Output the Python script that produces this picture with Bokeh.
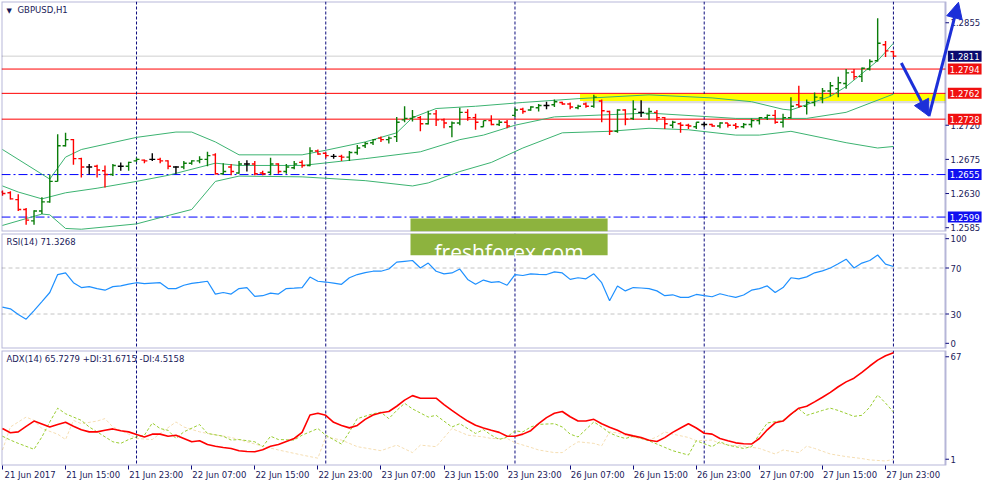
from bokeh.plotting import figure
from bokeh.layouts import column
from bokeh.models import (ColumnDataSource, Range1d, FixedTicker, Span, BoxAnnotation,
                          Label, Arrow, NormalHead, PrintfTickFormatter, LinearAxis)
from bokeh.embed import file_html
from bokeh.resources import INLINE

# GBPUSD H1 bars, 21 Jun 07:00 .. 28 Jun 00:00 (bar index 0..113)
bar_open = [1.2632, 1.2631, 1.2622, 1.2609, 1.2594, 1.2607, 1.2619, 1.2646, 1.2693, 1.2701,
            1.2676, 1.2665, 1.2666, 1.2660, 1.2655, 1.2666, 1.2666, 1.2673, 1.2674, 1.2675,
            1.2675, 1.2673, 1.2665, 1.2665, 1.2670, 1.2673, 1.2675, 1.2681, 1.2656, 1.2665,
            1.2657, 1.2669, 1.2669, 1.2657, 1.2658, 1.2669, 1.2659, 1.2664, 1.2671, 1.2667,
            1.2686, 1.2683, 1.2679, 1.2679, 1.2678, 1.2684, 1.2693, 1.2697, 1.2703, 1.2701,
            1.2705, 1.2727, 1.2729, 1.2730, 1.2722, 1.2735, 1.2727, 1.2718, 1.2723, 1.2737,
            1.2730, 1.2718, 1.2726, 1.2721, 1.2724, 1.2733, 1.2741, 1.2740, 1.2743, 1.2746,
            1.2747, 1.2750, 1.2748, 1.2743, 1.2748, 1.2745, 1.2752, 1.2738, 1.2712, 1.2740,
            1.2729, 1.2737, 1.2735, 1.2737, 1.2730, 1.2720, 1.2722, 1.2720, 1.2718, 1.2721,
            1.2721, 1.2719, 1.2723, 1.2720, 1.2718, 1.2721, 1.2726, 1.2730, 1.2733, 1.2724,
            1.2730, 1.2747, 1.2745, 1.2750, 1.2756, 1.2765, 1.2768, 1.2775, 1.2790, 1.2784,
            1.2794, 1.2805, 1.2826, 1.2817]
bar_high = [1.2634, 1.2633, 1.2629, 1.2611, 1.2608, 1.2625, 1.2655, 1.2708, 1.2710, 1.2702,
            1.2677, 1.2669, 1.2668, 1.2667, 1.2669, 1.2671, 1.2672, 1.2677, 1.2675, 1.2683,
            1.2677, 1.2674, 1.2666, 1.2673, 1.2674, 1.2679, 1.2685, 1.2683, 1.2670, 1.2669,
            1.2673, 1.2674, 1.2673, 1.2660, 1.2677, 1.2670, 1.2669, 1.2673, 1.2674, 1.2691,
            1.2688, 1.2684, 1.2682, 1.2681, 1.2686, 1.2694, 1.2698, 1.2702, 1.2705, 1.2705,
            1.2731, 1.2745, 1.2740, 1.2732, 1.2739, 1.2740, 1.2729, 1.2725, 1.2743, 1.2741,
            1.2735, 1.2726, 1.2733, 1.2727, 1.2727, 1.2743, 1.2743, 1.2745, 1.2748, 1.2751,
            1.2754, 1.2751, 1.2750, 1.2747, 1.2750, 1.2760, 1.2754, 1.2739, 1.2741, 1.2741,
            1.2753, 1.2753, 1.2743, 1.2740, 1.2731, 1.2726, 1.2724, 1.2722, 1.2724, 1.2724,
            1.2722, 1.2724, 1.2723, 1.2723, 1.2723, 1.2729, 1.2731, 1.2734, 1.2740, 1.2735,
            1.2757, 1.2772, 1.2754, 1.2763, 1.2769, 1.2777, 1.2784, 1.2794, 1.2794, 1.2796,
            1.2807, 1.2861, 1.2831, 1.2818]
bar_low = [1.2627, 1.2622, 1.2607, 1.2589, 1.2589, 1.2603, 1.2618, 1.2646, 1.2692, 1.2668,
           1.2651, 1.2655, 1.2651, 1.2638, 1.2653, 1.2660, 1.2660, 1.2672, 1.2670, 1.2673,
           1.2670, 1.2662, 1.2656, 1.2662, 1.2668, 1.2670, 1.2666, 1.2655, 1.2655, 1.2654,
           1.2656, 1.2659, 1.2654, 1.2654, 1.2654, 1.2656, 1.2656, 1.2662, 1.2664, 1.2666,
           1.2681, 1.2677, 1.2676, 1.2673, 1.2673, 1.2681, 1.2690, 1.2694, 1.2698, 1.2696,
           1.2698, 1.2724, 1.2725, 1.2712, 1.2721, 1.2719, 1.2716, 1.2704, 1.2720, 1.2726,
           1.2714, 1.2718, 1.2720, 1.2719, 1.2716, 1.2731, 1.2735, 1.2739, 1.2738, 1.2741,
           1.2744, 1.2747, 1.2741, 1.2741, 1.2743, 1.2743, 1.2724, 1.2707, 1.2710, 1.2720,
           1.2727, 1.2731, 1.2727, 1.2725, 1.2715, 1.2716, 1.2710, 1.2715, 1.2715, 1.2718,
           1.2718, 1.2716, 1.2717, 1.2715, 1.2716, 1.2717, 1.2721, 1.2727, 1.2722, 1.2717,
           1.2729, 1.2743, 1.2734, 1.2745, 1.2749, 1.2758, 1.2757, 1.2768, 1.2780, 1.2777,
           1.2792, 1.2804, 1.2810, 1.2810]
bar_close = [1.2630, 1.2623, 1.2609, 1.2595, 1.2607, 1.2619, 1.2646, 1.2693, 1.2701, 1.2676,
             1.2665, 1.2665, 1.2661, 1.2655, 1.2667, 1.2666, 1.2671, 1.2675, 1.2673, 1.2675,
             1.2673, 1.2666, 1.2665, 1.2670, 1.2673, 1.2675, 1.2680, 1.2656, 1.2659, 1.2659,
             1.2669, 1.2669, 1.2656, 1.2656, 1.2669, 1.2659, 1.2665, 1.2669, 1.2667, 1.2686,
             1.2682, 1.2680, 1.2679, 1.2678, 1.2684, 1.2690, 1.2696, 1.2701, 1.2701, 1.2703,
             1.2724, 1.2729, 1.2731, 1.2722, 1.2735, 1.2727, 1.2723, 1.2723, 1.2737, 1.2730,
             1.2724, 1.2726, 1.2721, 1.2724, 1.2719, 1.2740, 1.2738, 1.2744, 1.2746, 1.2746,
             1.2751, 1.2748, 1.2744, 1.2745, 1.2745, 1.2757, 1.2739, 1.2712, 1.2740, 1.2728,
             1.2741, 1.2737, 1.2738, 1.2730, 1.2722, 1.2724, 1.2720, 1.2719, 1.2724, 1.2721,
             1.2719, 1.2723, 1.2720, 1.2718, 1.2721, 1.2726, 1.2730, 1.2733, 1.2724, 1.2730,
             1.2745, 1.2745, 1.2750, 1.2757, 1.2765, 1.2772, 1.2776, 1.2789, 1.2784, 1.2795,
             1.2804, 1.2828, 1.2818, 1.2811]

# Bollinger bands (20) at their bends
bb_upper_idx = [0, 6, 8, 10, 17, 22, 24, 27, 30, 38, 41, 46, 50, 52, 55, 60, 66, 73, 82, 90,
                95, 99, 100, 105, 107, 111, 113]
bb_upper = [1.2688, 1.2649, 1.2678, 1.2688, 1.2704, 1.2711, 1.2711, 1.2698, 1.2681, 1.2681,
            1.2687, 1.2698, 1.2710, 1.2730, 1.2742, 1.2745, 1.2750, 1.2755, 1.2760, 1.2756,
            1.2751, 1.2741, 1.2740, 1.2758, 1.2771, 1.2805, 1.2828]
bb_mid_idx = [0, 2, 5, 8, 12, 17, 21, 27, 30, 38, 46, 53, 58, 61, 65, 70, 82, 93, 102, 107, 113]
bb_mid = [1.2640, 1.2632, 1.2623, 1.2631, 1.2637, 1.2646, 1.2654, 1.2670, 1.2667, 1.2667,
          1.2676, 1.2685, 1.2701, 1.2707, 1.2720, 1.2731, 1.2736, 1.2729, 1.2729, 1.2737, 1.2761]
bb_lower_idx = [0, 5, 6, 8, 10, 17, 21, 24, 27, 30, 38, 46, 52, 54, 58, 62, 66, 71, 77, 82,
                87, 93, 96, 100, 107, 111, 113]
bb_lower = [1.2588, 1.2603, 1.2602, 1.2584, 1.2583, 1.2590, 1.2601, 1.2609, 1.2646, 1.2653,
            1.2652, 1.2647, 1.2640, 1.2644, 1.2659, 1.2671, 1.2690, 1.2710, 1.2712, 1.2716,
            1.2714, 1.2707, 1.2707, 1.2712, 1.2697, 1.2690, 1.2692]

# horizontal levels and the drawn zone / forecast
bid_price = 1.2811
red_levels = [1.2794, 1.2762, 1.2728]
blue_levels = [1.2655, 1.2599]
zone_start, zone_top, zone_bottom = 73.25, 1.2761, 1.2752
forecast_x = [114, 117.5, 121.25]
forecast_y = [1.2802, 1.2732, 1.2882]

rsi = [36.0, 34.5, 29.5, 25.5, 33.0, 40.8, 48.7, 64.3, 65.7, 57.2,
       53.0, 53.8, 52.0, 50.7, 53.8, 54.4, 56.0, 57.2, 56.4, 56.8,
       57.2, 52.1, 52.1, 55.0, 56.7, 57.5, 58.5, 47.3, 48.7, 47.3,
       52.1, 53.0, 45.3, 45.9, 48.2, 47.3, 52.1, 52.5, 53.0, 62.1,
       58.5, 57.8, 56.8, 55.8, 61.5, 64.3, 66.0, 67.2, 67.2, 69.1,
       75.1, 75.8, 76.5, 70.0, 74.3, 67.2, 64.9, 65.7, 69.1, 60.1,
       55.8, 59.5, 57.5, 58.1, 55.0, 64.3, 63.5, 64.9, 64.5, 64.3,
       66.6, 65.7, 60.1, 61.5, 60.6, 64.9, 57.2, 41.6, 54.4, 50.1,
       53.0, 52.6, 52.1, 50.1, 45.9, 46.7, 44.5, 44.5, 47.0, 45.9,
       45.0, 47.6, 45.9, 44.5, 46.5, 50.7, 52.1, 54.4, 48.7, 53.0,
       61.5, 60.6, 62.3, 65.8, 67.5, 70.0, 73.7, 77.7, 70.0, 74.3,
       76.5, 81.3, 73.4, 71.3]

adx = [22.2, 19.8, 20.3, 23.5, 26.5, 24.8, 23.1, 24.5, 25.8, 23.5,
       21.5, 20.3, 20.3, 21.2, 22.0, 20.9, 20.3, 18.8, 17.4, 19.0,
       19.0, 17.8, 18.4, 16.5, 14.6, 15.2, 13.0, 12.0, 11.3, 10.8,
       9.5, 9.0, 8.9, 10.0, 12.0, 13.0, 14.8, 16.5, 20.0, 30.0,
       31.0, 29.8, 25.8, 24.0, 22.6, 24.0, 27.5, 30.0, 31.3, 32.0,
       35.0, 38.5, 41.1, 39.6, 39.6, 39.6, 36.0, 32.6, 29.5, 26.5,
       24.1, 22.5, 21.2, 20.0, 17.8, 17.8, 19.0, 21.0, 25.0, 28.5,
       31.0, 32.0, 29.0, 26.5, 26.5, 27.5, 25.0, 23.0, 21.2, 19.0,
       18.0, 17.1, 15.5, 14.8, 17.0, 20.0, 22.5, 25.0, 22.5, 19.5,
       19.0, 16.5, 15.2, 14.0, 13.5, 13.3, 16.5, 21.5, 25.5, 26.5,
       30.5, 33.9, 35.0, 37.5, 40.2, 43.0, 46.2, 49.0, 51.1, 54.5,
       58.1, 61.5, 64.0, 65.7]
plus_di_idx = [0, 1, 2, 4, 5, 6, 7, 8, 10, 11, 12, 14, 15, 16, 17, 18, 19, 20, 21, 22,
               23, 25, 26, 28, 29, 30, 32, 33, 34, 35, 37, 38, 40, 41, 43, 44, 45, 47, 48, 49,
               50, 51, 52, 54, 55, 57, 58, 60, 61, 62, 63, 64, 65, 66, 67, 68, 70, 71, 72, 73,
               75, 76, 77, 78, 79, 80, 82, 84, 85, 87, 88, 90, 91, 92, 94, 95, 96, 97, 99, 101,
               102, 104, 105, 106, 108, 109, 110, 111, 112, 113]
plus_di = [17.8, 15.6, 13.7, 10.3, 17.4, 26.0, 33.9, 30.7, 26.9, 23.1,
           20.3, 14.6, 13.7, 15.9, 17.4, 18.4, 25.4, 22.2, 21.2, 16.5,
           20.3, 24.5, 19.4, 17.8, 15.6, 15.9, 14.6, 11.8, 17.8, 15.9,
           15.6, 18.4, 22.2, 18.4, 13.3, 20.3, 27.9, 30.7, 31.6, 27.9,
           32.6, 36.7, 33.5, 28.8, 29.8, 23.1, 25.0, 19.4, 21.6, 18.4,
           15.9, 17.4, 20.9, 20.3, 23.1, 24.6, 25.0, 23.1, 19.0, 17.4,
           26.0, 23.1, 19.7, 17.8, 16.5, 17.8, 15.2, 11.4, 9.5, 7.0,
           15.2, 11.8, 14.6, 12.7, 10.8, 11.8, 19.0, 25.4, 26.9, 33.5,
           29.8, 32.6, 33.9, 32.6, 29.2, 29.8, 34.5, 41.5, 36.8, 31.7]
minus_di_idx = [0, 1, 3, 4, 5, 7, 8, 9, 10, 12, 13, 14, 16, 17, 19, 20, 22, 23, 25, 26,
                29, 31, 33, 35, 38, 40, 41, 43, 45, 48, 50, 52, 53, 55, 57, 59, 61, 62, 63, 64,
                65, 67, 68, 70, 71, 72, 73, 75, 76, 77, 78, 80, 82, 83, 84, 85, 87, 88, 90, 91,
                92, 94, 96, 98, 99, 101, 102, 103, 105, 107, 109, 110, 112, 113]
minus_di = [9.9, 23.1, 28.8, 26.9, 22.2, 19.0, 15.9, 26.9, 25.0, 26.5,
            27.9, 23.1, 19.0, 16.5, 15.9, 19.4, 26.0, 23.1, 20.3, 19.4,
            17.1, 14.6, 12.1, 9.9, 7.0, 5.2, 17.4, 15.6, 11.8, 9.5,
            12.7, 8.4, 12.7, 11.8, 22.2, 18.4, 17.4, 16.5, 16.5, 16.5,
            14.1, 11.4, 9.9, 8.4, 8.4, 11.8, 14.6, 13.7, 12.3, 20.3,
            19.7, 17.1, 15.6, 17.4, 20.3, 19.0, 17.1, 15.2, 15.6, 13.7,
            12.7, 12.1, 10.8, 7.6, 9.9, 8.4, 12.1, 10.8, 7.6, 6.1,
            5.0, 4.2, 3.6, 4.5]

day_starts = [17, 41, 65, 89, 113]
x_ticks = [0, 8, 16, 24, 32, 40, 48, 56, 64, 72, 80, 88, 96, 104, 112]
x_tick_labels = ["21 Jun 2017", "21 Jun 15:00", "21 Jun 23:00", "22 Jun 07:00", "22 Jun 15:00",
                 "22 Jun 23:00", "23 Jun 07:00", "23 Jun 15:00", "23 Jun 23:00", "26 Jun 07:00",
                 "26 Jun 15:00", "26 Jun 23:00", "27 Jun 07:00", "27 Jun 15:00", "27 Jun 23:00"]
price_ticks = [1.2585, 1.2630, 1.2675, 1.2720, 1.2855]

NAVY = "#0c0c7e"
TXT = "#1a1a5a"
FONT = "DejaVu Sans"
FW = 983                      # frame runs under the price scale too (MT4 style)
FH_MAIN, FH_SUB = 230, 115
AXIS_X = 119.6                # where the chart area ends and the scale begins
LABEL_SHIFT = 3.5             # date labels start at their tick, like MT4

xr = Range1d(-0.125, 124.55)


def make_fig(fh, yr, bottom_axis=False):
    f = figure(frame_width=FW, frame_height=fh, x_range=xr, y_range=yr,
               x_axis_location="below" if bottom_axis else None, y_axis_location="right",
               output_backend="svg", toolbar_location=None,
               min_border_left=1, min_border_right=0, min_border_top=1,
               min_border_bottom=0 if bottom_axis else 1)
    f.grid.visible = False
    f.outline_line_color = None
    for d in day_starts:
        f.add_layout(Span(location=d, dimension="height", line_color=NAVY,
                          line_dash="3 2", line_width=1, level="underlay"))
    # panel border, stops at the price scale
    f.add_layout(BoxAnnotation(right=AXIS_X, fill_alpha=0, line_color=NAVY, line_width=2))
    return f


def style_yaxis(f, ticks, overrides=None):
    ax = f.yaxis[0]
    ax.ticker = FixedTicker(ticks=ticks)
    if overrides:
        ax.major_label_overrides = overrides
    ax.axis_line_color = None
    ax.major_tick_line_color = None
    ax.minor_tick_line_color = None
    ax.major_tick_in = 0
    ax.major_tick_out = 0
    ax.major_label_standoff = -34
    ax.major_label_text_font = FONT
    ax.major_label_text_font_size = "8.5px"
    ax.major_label_text_color = TXT
    n = len(ticks)
    f.segment(x0=[AXIS_X] * n, x1=[AXIS_X + 0.45] * n, y0=ticks, y1=ticks,
              line_color=NAVY, line_width=1)


def hline(f, levels, color, dash="solid"):
    n = len(levels)
    f.segment(x0=[xr.start] * n, x1=[AXIS_X] * n, y0=levels, y1=levels,
              line_color=color, line_width=1, line_dash=dash, level="underlay")


def title(f, txt, fh, x=5):
    f.add_layout(Label(x=x, y=fh - 3, x_units="screen", y_units="screen", text=txt,
                       text_font=FONT, text_font_size="8.5px", text_color=TXT,
                       text_baseline="top"))


# ---- price panel ----
p = make_fig(FH_MAIN, Range1d(1.2580, 1.2883))
style_yaxis(p, price_ticks)
p.yaxis[0].formatter = PrintfTickFormatter(format="%.4f")

p.add_layout(BoxAnnotation(left=zone_start + 0.4, right=AXIS_X, bottom=zone_bottom - 0.0003,
                           top=zone_bottom, fill_color="#9a9a9a", fill_alpha=0.35,
                           line_alpha=0, level="underlay"))
p.add_layout(BoxAnnotation(left=zone_start, right=AXIS_X, bottom=zone_bottom, top=zone_top,
                           fill_color="#ffff00", fill_alpha=1, line_alpha=0, level="underlay"))
hline(p, [bid_price], "#cfcfcf")
hline(p, red_levels, "#ff0000")
hline(p, blue_levels, "#0000ff", "9 3 2 3")

bb_col = "#3cb371"
p.line(bb_upper_idx, bb_upper, line_color=bb_col, line_width=1)
p.line(bb_mid_idx, bb_mid, line_color=bb_col, line_width=1)
p.line(bb_lower_idx, bb_lower, line_color=bb_col, line_width=1)

idx = list(range(len(bar_open)))
colors = ["#0a7d0a" if c > o else ("#ff0000" if c < o else "#000000")
          for o, c in zip(bar_open, bar_close)]
src = ColumnDataSource(dict(x=idx, xl=[i - 0.375 for i in idx], xr=[i + 0.375 for i in idx],
                            o=bar_open, h=bar_high, l=bar_low, c=bar_close, col=colors))
p.segment(x0="x", y0="l", x1="x", y1="h", line_color="col", line_width=1.4, source=src)
p.segment(x0="xl", y0="o", x1="x", y1="o", line_color="col", line_width=1.4, source=src)
p.segment(x0="x", y0="c", x1="xr", y1="c", line_color="col", line_width=1.4, source=src)

# freshforex logo, upper part
logo_left, logo_right = 51.75, 76.75
logo_col = "#8db33e"
p.add_layout(BoxAnnotation(left=logo_left, right=logo_right, top=1.2597,
                           fill_color=logo_col, fill_alpha=1, line_alpha=0))

# forecast arrows
for k in range(2):
    p.add_layout(Arrow(x_start=forecast_x[k], y_start=forecast_y[k],
                       x_end=forecast_x[k + 1], y_end=forecast_y[k + 1],
                       line_color="#1c2fd8", line_width=3,
                       end=NormalHead(size=16, fill_color="#1c2fd8", line_color="#1c2fd8")))

# price tags on the scale
tags = [(bid_price, "#0a0a6e")] + [(lv, "#f01010") for lv in red_levels] + \
       [(lv, "#1010f0") for lv in blue_levels]
for lv, colr in tags:
    p.add_layout(Label(x=AXIS_X + 0.3, y=lv, text=f"{lv:.4f}",
                       text_font=FONT, text_font_size="8.5px", text_color="white",
                       text_baseline="middle", background_fill_color=colr, padding=2))

p.add_layout(Label(x=5, y=FH_MAIN - 5, x_units="screen", y_units="screen", text="\u25bc",
                   text_font=FONT, text_font_size="7px", text_color=TXT, text_baseline="top"))
title(p, "GBPUSD,H1", FH_MAIN, x=16)

# ---- RSI panel ----
r = make_fig(FH_SUB, Range1d(0, 100))
style_yaxis(r, [4.5, 30, 70, 95.5], {4.5: "0", 30: "30", 70: "70", 95.5: "100"})
hline(r, [30, 70], "#c4c4c4", "4 3")
r.line(idx, rsi, line_color="#1e90ff", line_width=1.2)
title(r, "RSI(14) 71.3268", FH_SUB)

r.add_layout(BoxAnnotation(left=logo_left, right=logo_right, bottom=81,
                           fill_color=logo_col, fill_alpha=1, line_alpha=0))
r.add_layout(Label(x=(logo_left + logo_right) / 2, y=84, text="freshforex.com",
                   text_font="Open Sans", text_font_size="21px", text_color="white",
                   text_align="center", text_baseline="alphabetic"))

# ---- ADX panel ----
a = make_fig(FH_SUB, Range1d(1, 67), bottom_axis=True)
style_yaxis(a, [4.6, 63.4], {4.6: "1", 63.4: "67"})

tick_ax = a.xaxis[0]
tick_ax.ticker = FixedTicker(ticks=x_ticks)
tick_ax.axis_line_color = None
tick_ax.major_tick_line_color = NAVY
tick_ax.major_tick_in = 0
tick_ax.major_tick_out = 4
tick_ax.minor_tick_line_color = None
tick_ax.major_label_text_color = None

label_pos = [t + LABEL_SHIFT for t in x_ticks]
lab_ax = LinearAxis(ticker=FixedTicker(ticks=label_pos),
                    major_label_overrides=dict(zip(label_pos, x_tick_labels)),
                    axis_line_color=None, major_tick_line_color=None,
                    minor_tick_line_color=None, major_tick_in=0, major_tick_out=0,
                    major_label_standoff=0, major_label_text_font=FONT,
                    major_label_text_font_size="8.5px", major_label_text_color=TXT)
a.add_layout(lab_ax, "below")

a.line(minus_di_idx, minus_di, line_color="#f5deb3", line_width=1, line_dash="3 2")
a.line(plus_di_idx, plus_di, line_color="#9acd32", line_width=1, line_dash="3 2")
a.line(idx, adx, line_color="#ff0000", line_width=1.6)
title(a, "ADX(14) 65.7279 +DI:31.6715 -DI:4.5158", FH_SUB)

layout = column(p, r, a, spacing=0)
open("out.html", "w").write(file_html(layout, INLINE))
